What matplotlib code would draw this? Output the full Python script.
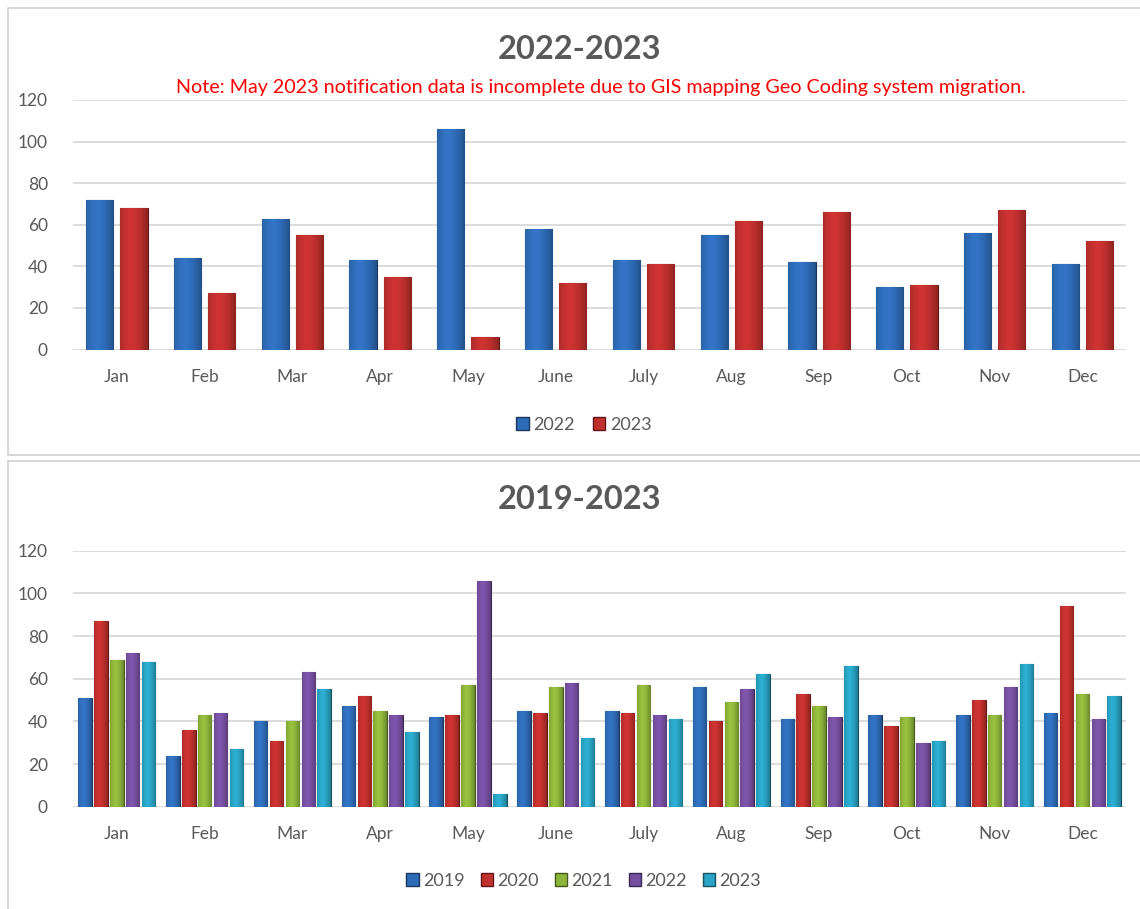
import numpy as np
import matplotlib
matplotlib.use("Agg")
import matplotlib.pyplot as plt
from matplotlib.patches import Rectangle
from matplotlib.colors import to_rgb

plt.rcParams['font.family'] = ['Lato', 'DejaVu Sans']

# データ
months = ["Jan", "Feb", "Mar", "Apr", "May", "June", "July", "Aug", "Sep", "Oct", "Nov", "Dec"]
y2019 = [51, 24, 40, 47, 42, 45, 45, 56, 41, 43, 43, 44]
y2020 = [87, 36, 31, 52, 43, 44, 44, 40, 53, 38, 50, 94]
y2021 = [69, 43, 40, 45, 57, 56, 57, 49, 47, 42, 43, 53]
y2022 = [72, 44, 63, 43, 106, 58, 43, 55, 42, 30, 56, 41]
y2023 = [68, 27, 55, 35, 6, 32, 41, 62, 66, 31, 67, 52]
yticks = [0, 20, 40, 60, 80, 100, 120]

colors = {"2019": "#2f6cb8", "2020": "#c0302e", "2021": "#8db43a",
          "2022": "#7650a0", "2023": "#2aa3c4"}
top_colors = {"2022": "#2f6cb8", "2023": "#c0302e"}

fig = plt.figure(figsize=(11.4, 9.09), dpi=100)

# パネルの枠
for (y0, h) in [(0.499, 0.492), (-0.01, 0.503)]:
    fig.patches.append(Rectangle((0.007, y0), 1.0, h, transform=fig.transFigure,
                                 facecolor="white", edgecolor="#cfcfcf", lw=1.2, zorder=-10))


def shade_bars(ax, bars, color):
    # 円柱風のグラデーション
    base = np.array(to_rgb(color))
    t = np.linspace(0, 1, 64)
    k = 1.08 - 0.75 * np.abs(t - 0.4) ** 1.6
    light = np.clip(base * k[:, None], 0, 1)
    img = light[None, :, :]
    for b in bars:
        x, w, h = b.get_x(), b.get_width(), b.get_height()
        im = ax.imshow(img, extent=(x, x + w, 0, h), aspect="auto", zorder=3,
                       interpolation="bilinear")
        im.set_clip_path(b)
        b.set_facecolor("none")
        b.set_edgecolor(tuple(base * 0.5))
        b.set_linewidth(0.8)


def style_axes(ax):
    ax.set_xlim(-0.5, 11.5)
    ax.set_ylim(0, 120)
    ax.set_yticks(yticks)
    ax.set_xticks(range(12))
    ax.set_xticklabels(months)
    ax.grid(axis="y", color="#d9d9d9", lw=1.3, zorder=0)
    ax.set_axisbelow(True)
    ax.patch.set_alpha(0)
    for s in ax.spines.values():
        s.set_visible(False)
    ax.tick_params(length=0, labelsize=12.5, labelcolor="#595959")
    ax.tick_params(axis="x", pad=14)
    ax.tick_params(axis="y", pad=18)


# 上のグラフ 2022-2023
ax1 = fig.add_axes([0.064, 0.6155, 0.924, 0.2745])
x = np.arange(12)
w = 0.31
handles = []
for i, (lab, vals) in enumerate([("2022", y2022), ("2023", y2023)]):
    bars = ax1.bar(x + (i - 0.5) * 0.39, vals, w, label=lab, zorder=3)
    shade_bars(ax1, bars, top_colors[lab])
    handles.append(Rectangle((0, 0), 1, 1, facecolor=top_colors[lab],
                             edgecolor=tuple(np.array(to_rgb(top_colors[lab])) * 0.5)))
style_axes(ax1)
ax1.legend(handles, ["2022", "2023"], loc="center", bbox_to_anchor=(0.485, -0.302),
           ncol=2, frameon=False, fontsize=13, handlelength=0.7, handleheight=0.7,
           handletextpad=0.25, columnspacing=1.0, labelcolor="#595959")
fig.text(0.508, 0.945, "2022-2023", ha="center", va="center", fontsize=23.5,
         fontweight="bold", color="#595959")
fig.text(0.527, 0.904, "Note: May 2023 notification data is incomplete due to GIS mapping Geo Coding system migration.",
         ha="center", va="center", fontsize=14.2, color="#ff0000")

# 下のグラフ 2019-2023
ax2 = fig.add_axes([0.064, 0.1125, 0.924, 0.2816])
series = [("2019", y2019), ("2020", y2020), ("2021", y2021), ("2022", y2022), ("2023", y2023)]
w2 = 0.154
handles = []
for i, (lab, vals) in enumerate(series):
    bars = ax2.bar(x + (i - 2) * 0.181, vals, w2, label=lab, zorder=3)
    shade_bars(ax2, bars, colors[lab])
    handles.append(Rectangle((0, 0), 1, 1, facecolor=colors[lab],
                             edgecolor=tuple(np.array(to_rgb(colors[lab])) * 0.5)))
style_axes(ax2)
ax2.legend(handles, [s[0] for s in series], loc="center", bbox_to_anchor=(0.485, -0.29),
           ncol=5, frameon=False, fontsize=13, handlelength=0.7, handleheight=0.7,
           handletextpad=0.25, columnspacing=0.85, labelcolor="#595959")
fig.text(0.508, 0.451, "2019-2023", ha="center", va="center", fontsize=23.5,
         fontweight="bold", color="#595959")

plt.savefig("out.png", dpi=100)
plt.close()
